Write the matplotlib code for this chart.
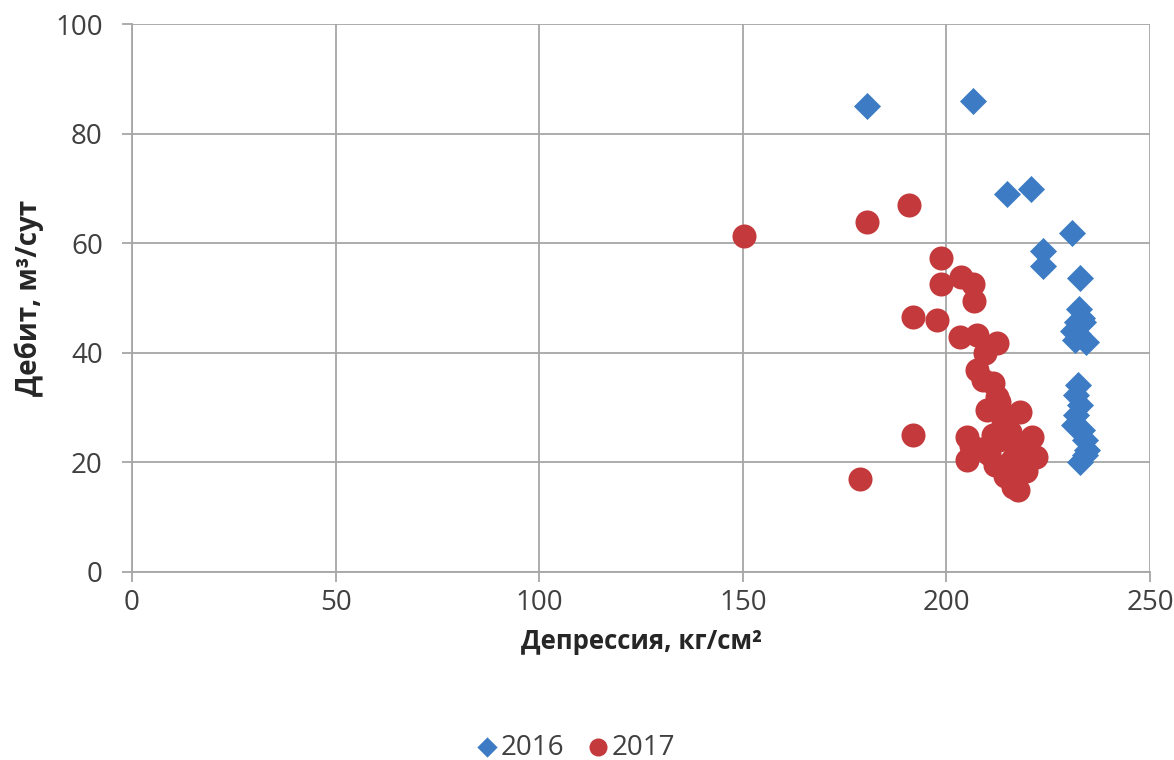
import matplotlib.pyplot as plt

plt.rcParams['font.family'] = ['Open Sans', 'DejaVu Sans']

# 2016 series (diamonds)
x_2016 = [180.5, 206.5, 214.9, 220.8, 230.8, 223.7, 223.7, 232.8,
          232.6, 232.1, 233.6, 231.0, 231.5, 234.2, 233.4, 232.3,
          232.4, 231.9, 232.8, 231.9, 231.4, 233.4, 234.1, 234.6, 234.1, 232.8]
y_2016 = [85.0, 86.0, 69.0, 69.9, 61.9, 58.6, 55.8, 53.6,
          48.0, 45.6, 45.6, 44.0, 42.3, 42.0, 46.3, 43.5,
          34.1, 32.3, 30.5, 28.6, 26.8, 25.9, 24.0, 22.3, 21.4, 20.0]

# 2017 series (circles)
x_2017 = [150.3, 180.5, 190.8, 198.7, 198.7, 203.5, 206.5, 206.8,
          191.8, 197.7, 203.3, 207.5, 212.4, 209.5, 207.5, 209.0,
          211.4, 212.5, 210.0, 213.0, 214.5, 218.0, 191.8, 178.8,
          205.0, 205.0, 206.0, 208.5, 213.0, 215.5, 217.0, 221.0,
          222.0, 220.0, 216.4, 217.5, 214.5, 212.0, 210.5, 216.0,
          218.5, 219.5, 211.5, 214.0]
y_2017 = [61.3, 63.9, 67.0, 57.3, 52.6, 53.9, 52.5, 49.5,
          46.5, 46.0, 42.8, 43.2, 41.8, 40.0, 36.9, 35.0,
          34.5, 32.0, 29.6, 31.0, 28.0, 29.2, 25.0, 17.0,
          24.6, 20.4, 23.0, 22.5, 24.0, 25.5, 22.5, 24.6,
          21.0, 20.0, 15.5, 15.0, 17.5, 19.5, 21.5, 20.5,
          22.0, 18.5, 25.0, 27.0]

x_ticks = [0, 50, 100, 150, 200, 250]
y_ticks = [0, 20, 40, 60, 80, 100]

fig = plt.figure(figsize=(11.74, 7.6), dpi=100)
ax = fig.add_axes([0.1124, 0.2474, 0.8672, 0.721])

ax.scatter(x_2016, y_2016, marker='D', s=190, color='#3d7cc4', label='2016', zorder=3, linewidths=0)
ax.scatter(x_2017, y_2017, marker='o', s=300, color='#c4393b', label='2017', zorder=3, linewidths=0)

ax.set_xlim(0, 250)
ax.set_ylim(0, 100)
ax.set_xticks(x_ticks)
ax.set_yticks(y_ticks)
ax.grid(True, color='#a6a6a6', linewidth=1.3)
ax.set_axisbelow(True)
for s in ['top', 'right']:
    ax.spines[s].set_visible(False)
for s in ['left', 'bottom']:
    ax.spines[s].set_color('#a6a6a6')
    ax.spines[s].set_linewidth(1.3)
ax.tick_params(axis='both', colors='#a6a6a6', labelcolor='#404040', labelsize=20,
               length=7, width=1.3)
ax.tick_params(axis='x', pad=5)
ax.tick_params(axis='y', pad=14)

ax.set_xlabel('Депрессия, кг/см²', fontsize=18.5, fontweight='bold', color='#262626', labelpad=8)
ax.set_ylabel('Дебит, м³/сут', fontsize=20, fontweight='bold', color='#262626', labelpad=8)

fig.legend(loc='lower center', bbox_to_anchor=(0.49, -0.035), ncol=2, frameon=False,
           fontsize=20, handlelength=0.8, handletextpad=0.1, columnspacing=0.8,
           markerscale=0.75, labelcolor='#404040')

fig.savefig('out.png', dpi=100)
